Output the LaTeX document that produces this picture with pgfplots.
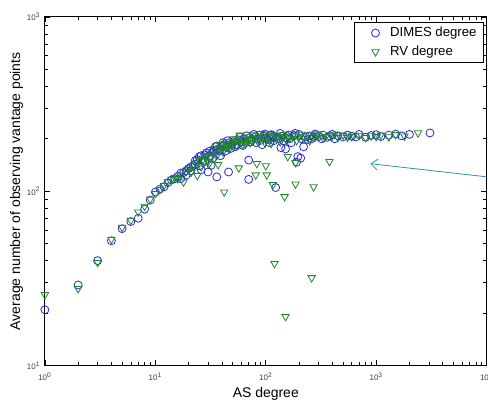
\documentclass[border=0pt]{standalone}
\usepackage{fontspec}
\setmainfont{Liberation Sans}
\usepackage{pgfplots}
\pgfplotsset{compat=1.18}
\usetikzlibrary{calc,arrows.meta}
\definecolor{dimesblue}{RGB}{40,40,225}
\definecolor{rvgreen}{RGB}{30,135,40}
\definecolor{arrowteal}{RGB}{45,145,175}
\begin{document}
\begin{tikzpicture}
\begin{axis}[
  xmode=log, ymode=log,
  scale only axis,
  width=332pt, height=262pt,
  xmin=1, xmax=10000, ymin=10, ymax=1000,
  xtick={1,10,100,1000,10000},
  xticklabels={10\textsuperscript{0},10\textsuperscript{1},10\textsuperscript{2},10\textsuperscript{3},10\textsuperscript{4}},
  ytick={10,100,1000},
  yticklabels={10\textsuperscript{1},10\textsuperscript{2},10\textsuperscript{3}},
  tick label style={font=\fontsize{6}{7}\selectfont, color=black!75},
  xticklabel style={yshift=-2pt},
  tick align=inside,
  major tick length=4pt, minor tick length=2.5pt,
  axis line style={line width=0.8pt},
  every tick/.style={black, line width=0.5pt},
  xlabel={AS degree},
  ylabel={Average number of observing vantage points},
  label style={font=\fontsize{10.5}{12}\selectfont},
  xlabel style={yshift=2pt},
  ylabel style={yshift=-4pt},
  clip=false,
  legend image code/.code={\path[draw=none,fill=none] (0pt,0pt) -- (22pt,0pt); \draw plot coordinates {(13pt,0pt)};},
  legend style={at={(rel axis cs:0.993,0.985)}, anchor=north east, draw=black, line width=0.6pt,
    font=\fontsize{9.9}{12}\selectfont, inner xsep=3pt, inner ysep=1.5pt, row sep=1.5pt, legend cell align=left},
]
\addplot[only marks, mark=o, mark size=3pt, dimesblue, mark options={line width=0.6pt}] coordinates {
(1,20.9)(2,29)(3,40)(4,52)(5,61)(6,67)(7,70)(8,79)(9,89)(10,99)(11,103)(12,106)(13,112)(14,116)(15,118)
(16,122)(17,127)(18,128)(19,131)(20,135)(21,138)(22,140)(23,143)(24,152)(25,158)(26,133)(27,150)(28,162)
(29,166)(30,129)(31,160)(32,141)(33,168)(34,172)(35,180)(36,121)(37,175)(38,170)(40,182)(42,185)(44,178)
(46,129)(47,190)(48,176)(50,188)(52,195)(55,185)(57,197)(60,192)(63,200)(66,190)(70,151)(70,117)(72,203)
(75,198)(80,205)(85,200)(90,196)(95,207)(100,202)(105,198)(110,210)(113,211)(118,195)(123,105)(125,205)
(130,200)(137,178)(140,207)(150,203)(151,175)(160,210)(170,190)(180,208)(190,147)(195,158)(200,212)
(207,155)(210,200)(220,180)(230,205)(250,208)(260,200)(280,213)(300,206)(330,210)(360,204)(400,212)
(450,208)(500,205)(550,210)(600,207)(700,212)(800,204)(900,209)(1000,211)(1100,206)(1300,210)(1500,213)
(1700,208)(2000,212)(3065,216)
(17,118)(19,124)(21,131)(23,150)(25,140)(26,160)(28,148)(31,170)(33,155)(36,182)(39,160)(41,190)(43,170)
(45,195)(49,185)(53,180)(58,205)(62,183)(67,208)(73,192)(78,212)(82,190)(88,210)(93,185)(98,213)(108,190)
(115,205)(135,215)(145,195)(165,200)(185,215)(240,198)(270,205)(320,200)(380,208)(420,200)(650,205)
};
\addlegendentry{DIMES degree}
\addplot[only marks, mark=triangle, mark size=3.2pt, rvgreen, mark options={rotate=180, line width=0.6pt}] coordinates {
(1,25.5)(2,27.6)(3,39)(4,53)(5,62)(6,68)(7,76)(8,82)(9,90)(10,97)(11,102)(12,108)(13,113)(14,117)(15,120)
(16,118)(17,124)(18,113)(19,130)(20,134)(22,140)(24,123)(25,150)(27,152)(28,160)(30,148)(32,155)(33,165)
(35,170)(37,142)(38,175)(40,178)(42,99)(43,182)(45,180)(48,188)(50,185)(52,192)(55,195)(57,136)(60,190)
(63,198)(65,188)(70,200)(75,195)(80,202)(81,124)(83,144)(88,198)(92,205)(95,200)(100,140)(102,124)
(105,205)(110,198)(116,109)(120,38.5)(125,207)(130,200)(140,205)(148,93)(151,19.1)(158,158)(165,202)
(175,208)(186,146)(186,110)(200,205)(220,200)(240,210)(260,31.9)(271,106)(280,205)(300,210)(330,202)
(377,148)(400,208)(450,203)(500,210)(600,206)(700,209)(800,203)(900,208)(1100,210)(1300,205)(1500,211)
(1800,207)(2390,216)
(21,128)(23,145)(26,138)(29,158)(31,145)(34,175)(36,160)(39,185)(41,168)(44,192)(47,175)(51,200)(54,183)
(58,210)(62,185)(67,205)(72,190)(77,212)(85,192)(90,214)(98,190)(107,212)(112,188)(120,210)(135,192)
(145,212)(155,195)(170,215)(190,195)(210,212)(250,195)(290,213)(350,206)(420,212)(550,204)(1000,206)
};
\addlegendentry{RV degree}
\draw[arrowteal, line width=0.6pt, -{Straight Barb[length=5pt,width=8pt]}] (axis cs:10000,121) -- (axis cs:883,144);
\end{axis}
\pgfresetboundingbox
\useasboundingbox ($(current axis.south west)+(-33.75pt,-26.25pt)$) rectangle ($(current axis.north east)+(1pt,12.75pt)$);
\end{tikzpicture}
\end{document}
